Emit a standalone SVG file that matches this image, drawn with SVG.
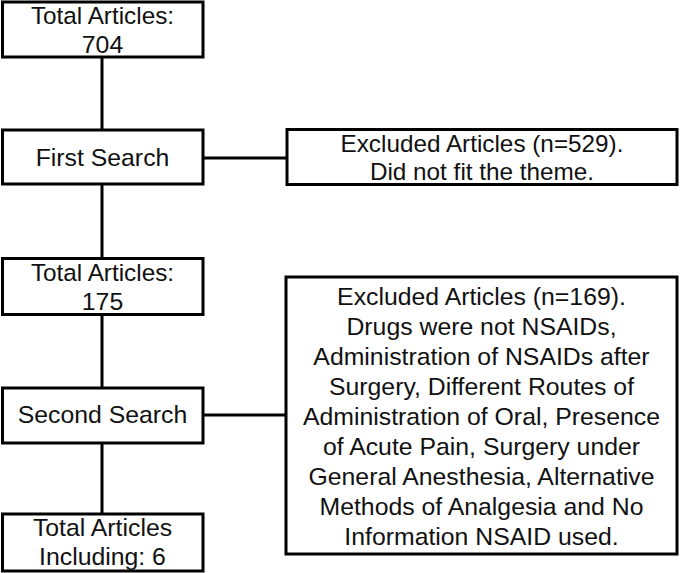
<svg xmlns="http://www.w3.org/2000/svg" width="680" height="573" viewBox="0 0 680 573">
<style>
.box{fill:#fff;stroke:#000;stroke-width:3}
.conn{stroke:#000;stroke-width:3;fill:none}
text{font-family:"Liberation Sans",Arial,sans-serif;font-size:24.8px;fill:#111;text-anchor:middle}
.tight{font-size:24.3px}
</style>
<rect width="680" height="573" fill="#fff"/>
<g id="connectors">
<line class="conn" x1="102" y1="57" x2="102" y2="130"/>
<line class="conn" x1="102" y1="184" x2="102" y2="258"/>
<line class="conn" x1="102" y1="314" x2="102" y2="388"/>
<line class="conn" x1="102" y1="443" x2="102" y2="514"/>
<line class="conn" x1="203" y1="158" x2="287" y2="158"/>
<line class="conn" x1="203" y1="415" x2="286" y2="415"/>
</g>
<g id="total704">
<rect class="box" x="2.5" y="2" width="200.5" height="55"/>
<text class="tight" x="102.5" y="24">Total Articles:</text>
<text x="102.5" y="53">704</text>
</g>
<g id="first-search">
<rect class="box" x="2.5" y="130" width="200.5" height="54"/>
<text x="102.5" y="166">First Search</text>
</g>
<g id="excluded529">
<rect class="box" x="287" y="129.5" width="390" height="55"/>
<text class="tight" x="482" y="152">Excluded Articles (n=529).</text>
<text class="tight" x="482" y="180">Did not fit the theme.</text>
</g>
<g id="total175">
<rect class="box" x="2.5" y="258.5" width="200.5" height="56"/>
<text class="tight" x="102.5" y="281">Total Articles:</text>
<text x="102.5" y="310">175</text>
</g>
<g id="second-search">
<rect class="box" x="2.5" y="388" width="200.5" height="55"/>
<text x="102.5" y="423">Second Search</text>
</g>
<g id="excluded169">
<rect class="box" x="286" y="277" width="391" height="277"/>
<text x="481.5" y="304.5">Excluded Articles (n=169).</text>
<text x="481.5" y="334.5">Drugs were not NSAIDs,</text>
<text x="481.5" y="364.5">Administration of NSAIDs after</text>
<text x="481.5" y="394.5">Surgery, Different Routes of</text>
<text x="481.5" y="424.5">Administration of Oral, Presence</text>
<text x="481.5" y="454.5">of Acute Pain, Surgery under</text>
<text x="481.5" y="484.5">General Anesthesia, Alternative</text>
<text x="481.5" y="514.5">Methods of Analgesia and No</text>
<text x="481.5" y="544.5">Information NSAID used.</text>
</g>
<g id="total-including">
<rect class="box" x="2.5" y="514" width="200.5" height="57"/>
<text x="102.5" y="536">Total Articles</text>
<text x="102.5" y="565">Including: 6</text>
</g>
</svg>
